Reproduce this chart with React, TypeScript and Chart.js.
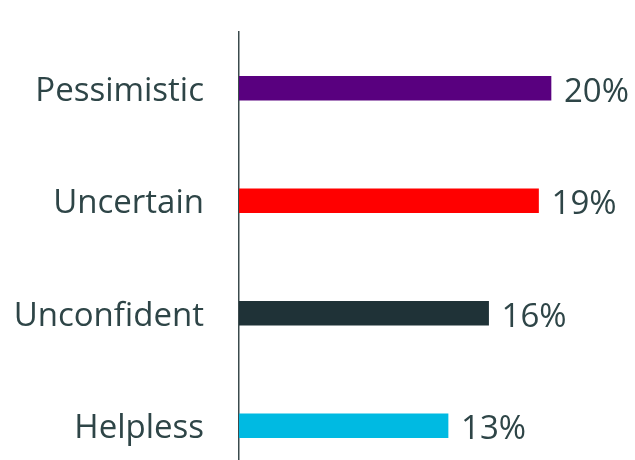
import React, { useEffect, useRef } from "react";
import { Chart, registerables } from "chart.js";

Chart.register(...registerables);

const categories = ["Pessimistic", "Uncertain", "Unconfident", "Helpless"];
const values = [20, 19.2, 16, 13.4];
const valueLabels = ["20%", "19%", "16%", "13%"];
const barColors = ["#59007f", "#ff0000", "#1f3237", "#00bae2"];

const TEXT_COLOR = "#2e4547";
const FONT_FAMILY = "'Open Sans', 'Noto Sans', sans-serif";
const FONT_SIZE = 33;

const valueLabelPlugin = {
  id: "valueLabels",
  afterDatasetsDraw(chart: any) {
    const ctx = chart.ctx;
    const meta = chart.getDatasetMeta(0);
    ctx.save();
    ctx.font = `400 ${FONT_SIZE}px ${FONT_FAMILY}`;
    ctx.fillStyle = TEXT_COLOR;
    ctx.textAlign = "left";
    ctx.textBaseline = "middle";
    meta.data.forEach((el: any, i: number) => {
      ctx.fillText(valueLabels[i], el.x + 13, el.y + 4);
    });
    ctx.restore();
  },
};

export default function App() {
  const ref = useRef<HTMLCanvasElement | null>(null);

  useEffect(() => {
    if (!ref.current) return;
    const chart = new Chart(ref.current, {
      type: "bar",
      data: {
        labels: categories,
        datasets: [
          {
            data: values,
            backgroundColor: barColors,
            borderWidth: 0,
            barThickness: 24,
          },
        ],
      },
      options: {
        indexAxis: "y",
        animation: false,
        responsive: false,
        maintainAspectRatio: false,
        layout: { padding: { top: 32, bottom: 18, left: 0, right: 6 } },
        plugins: {
          legend: { display: false },
          tooltip: { enabled: false },
        },
        scales: {
          x: {
            display: false,
            min: 0,
            max: 25,
          },
          y: {
            afterFit(scale: any) {
              scale.width = 239;
              scale.paddingTop = 0;
              scale.paddingBottom = 0;
            },
            grid: { display: false, drawTicks: false },
            border: { display: true, color: "#3b4a4c", width: 1.5 },
            ticks: {
              color: TEXT_COLOR,
              padding: 35,
              labelOffset: 3,
              font: { family: FONT_FAMILY, size: FONT_SIZE, weight: "400" },
            },
          },
        },
      },
      plugins: [valueLabelPlugin],
    });
    return () => chart.destroy();
  }, []);

  return (
    <div
      style={{
        position: "fixed",
        top: 0,
        left: 0,
        width: 635,
        height: 460,
        overflow: "hidden",
        background: "#ffffff",
      }}
    >
      <canvas ref={ref} width={635} height={500} style={{ width: 635, height: 500, display: "block" }} />
    </div>
  );
}
